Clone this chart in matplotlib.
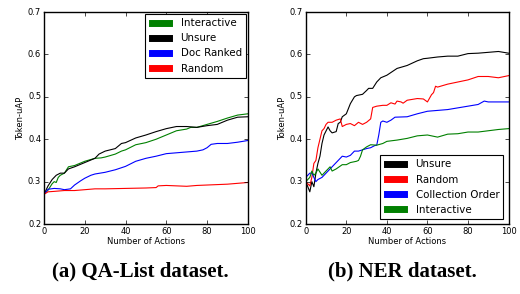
import matplotlib
matplotlib.use("Agg")
import matplotlib.pyplot as plt

# QA-List dataset (left panel)
qa_inter_x = [0, 2, 4, 5, 6, 7, 8, 10, 12, 15, 20, 25, 28, 30, 35, 38, 40, 45, 50, 55, 60, 65, 70, 72, 75, 80, 85, 90, 95, 100]
qa_inter_y = [0.27, 0.28, 0.295, 0.30, 0.298, 0.31, 0.315, 0.32, 0.335, 0.338, 0.348, 0.355, 0.356, 0.358, 0.365, 0.372, 0.375, 0.387, 0.392, 0.40, 0.41, 0.42, 0.424, 0.428, 0.428, 0.435, 0.442, 0.45, 0.457, 0.46]
qa_unsure_x = [0, 2, 4, 6, 8, 10, 12, 15, 20, 25, 27, 30, 35, 38, 40, 45, 50, 55, 60, 65, 70, 75, 80, 85, 90, 95, 100]
qa_unsure_y = [0.27, 0.29, 0.305, 0.315, 0.32, 0.32, 0.33, 0.335, 0.345, 0.355, 0.365, 0.372, 0.378, 0.39, 0.392, 0.403, 0.41, 0.418, 0.425, 0.43, 0.43, 0.428, 0.432, 0.435, 0.445, 0.452, 0.453]
qa_doc_x = [0, 2, 5, 8, 10, 13, 15, 18, 20, 23, 25, 30, 35, 40, 45, 50, 55, 60, 65, 70, 75, 78, 80, 82, 85, 90, 95, 100]
qa_doc_y = [0.27, 0.282, 0.284, 0.283, 0.281, 0.283, 0.292, 0.302, 0.308, 0.315, 0.318, 0.322, 0.328, 0.336, 0.348, 0.355, 0.36, 0.366, 0.368, 0.37, 0.372, 0.375, 0.38, 0.388, 0.39, 0.39, 0.393, 0.397]
qa_rand_x = [0, 2, 5, 10, 15, 20, 25, 30, 40, 50, 55, 56, 60, 70, 75, 80, 90, 95, 100]
qa_rand_y = [0.27, 0.276, 0.277, 0.279, 0.279, 0.281, 0.283, 0.283, 0.284, 0.285, 0.286, 0.29, 0.291, 0.289, 0.291, 0.292, 0.294, 0.296, 0.298]

# NER dataset (right panel)
ner_unsure_x = [0, 2, 3, 4, 5, 6, 7, 8, 9, 11, 12, 13, 15, 16, 17, 18, 20, 22, 24, 25, 28, 30, 31, 33, 35, 37, 40, 45, 50, 55, 58, 60, 65, 70, 75, 80, 85, 90, 95, 100]
ner_unsure_y = [0.30, 0.276, 0.30, 0.288, 0.32, 0.343, 0.36, 0.39, 0.41, 0.429, 0.42, 0.415, 0.418, 0.437, 0.44, 0.453, 0.46, 0.484, 0.50, 0.503, 0.506, 0.515, 0.52, 0.52, 0.535, 0.545, 0.551, 0.567, 0.574, 0.585, 0.59, 0.591, 0.594, 0.596, 0.596, 0.602, 0.603, 0.605, 0.607, 0.603]
ner_rand_x = [0, 2, 3, 4, 5, 6, 7, 8, 9, 10, 11, 13, 15, 17, 18, 20, 22, 24, 26, 28, 30, 32, 33, 35, 38, 40, 42, 44, 45, 47, 48, 50, 55, 58, 60, 62, 63, 64, 65, 70, 75, 80, 85, 90, 95, 100]
ner_rand_y = [0.30, 0.29, 0.31, 0.343, 0.35, 0.38, 0.40, 0.42, 0.425, 0.435, 0.44, 0.44, 0.445, 0.448, 0.43, 0.435, 0.437, 0.432, 0.44, 0.435, 0.44, 0.448, 0.475, 0.478, 0.48, 0.48, 0.486, 0.483, 0.49, 0.488, 0.485, 0.492, 0.496, 0.495, 0.488, 0.505, 0.51, 0.525, 0.523, 0.53, 0.535, 0.54, 0.548, 0.548, 0.545, 0.55]
ner_coll_x = [0, 2, 3, 4, 5, 6, 8, 10, 12, 14, 16, 18, 20, 22, 24, 26, 28, 30, 32, 34, 35, 36, 37, 38, 40, 42, 44, 50, 55, 60, 65, 70, 75, 80, 85, 88, 90, 95, 100]
ner_coll_y = [0.31, 0.32, 0.32, 0.31, 0.30, 0.305, 0.31, 0.32, 0.33, 0.34, 0.35, 0.36, 0.358, 0.362, 0.372, 0.372, 0.375, 0.378, 0.38, 0.385, 0.386, 0.41, 0.44, 0.443, 0.44, 0.445, 0.452, 0.453, 0.46, 0.466, 0.468, 0.47, 0.474, 0.478, 0.482, 0.49, 0.488, 0.488, 0.488]
ner_inter_x = [0, 2, 3, 4, 5, 6, 8, 10, 11, 12, 13, 15, 18, 20, 22, 25, 26, 27, 28, 30, 32, 35, 38, 40, 45, 50, 55, 60, 65, 70, 75, 80, 85, 90, 95, 100]
ner_inter_y = [0.30, 0.31, 0.325, 0.315, 0.32, 0.33, 0.315, 0.325, 0.33, 0.335, 0.325, 0.33, 0.34, 0.34, 0.345, 0.348, 0.35, 0.36, 0.375, 0.382, 0.387, 0.386, 0.39, 0.395, 0.398, 0.402, 0.408, 0.41, 0.405, 0.412, 0.413, 0.417, 0.417, 0.42, 0.423, 0.425]

captions = ["(a) QA-List dataset.", "(b) NER dataset."]

plt.style.use("classic")
plt.rcParams["font.family"] = "DejaVu Sans"
fig = plt.figure(figsize=(5.2, 2.94), dpi=100)
fig.patch.set_facecolor("white")

ax1 = fig.add_axes([0.0846, 0.238, 0.392, 0.721])
ax2 = fig.add_axes([0.588, 0.238, 0.39, 0.721])

ax1.plot(qa_inter_x, qa_inter_y, color="green", lw=0.8, label="Interactive")
ax1.plot(qa_unsure_x, qa_unsure_y, color="black", lw=0.8, label="Unsure")
ax1.plot(qa_doc_x, qa_doc_y, color="blue", lw=0.8, label="Doc Ranked")
ax1.plot(qa_rand_x, qa_rand_y, color="red", lw=0.8, label="Random")

ax2.plot(ner_unsure_x, ner_unsure_y, color="black", lw=0.8, label="Unsure")
ax2.plot(ner_rand_x, ner_rand_y, color="red", lw=0.8, label="Random")
ax2.plot(ner_coll_x, ner_coll_y, color="blue", lw=0.8, label="Collection Order")
ax2.plot(ner_inter_x, ner_inter_y, color="green", lw=0.8, label="Interactive")

for ax, loc, cap, pad in [(ax1, "upper right", captions[0], 0.2), (ax2, "lower right", captions[1], 0.5)]:
    ax.set_xlim(0, 100)
    ax.set_ylim(0.2, 0.7)
    ax.set_xticks([0, 20, 40, 60, 80, 100])
    ax.set_yticks([0.2, 0.3, 0.4, 0.5, 0.6, 0.7])
    ax.tick_params(labelsize=6, length=3, pad=2)
    ax.set_xlabel("Number of Actions", fontsize=6, labelpad=1)
    ax.set_ylabel("Token-uAP", fontsize=6, labelpad=2)
    leg = ax.legend(loc=loc, fontsize=7.4, frameon=True, fancybox=False,
                    handlelength=2.3, borderaxespad=pad, labelspacing=0.5)
    leg.get_frame().set_edgecolor("black")
    leg.get_frame().set_linewidth(0.8)
    for h in leg.get_lines():
        h.set_linewidth(5)
    pos = ax.get_position()
    fig.text(pos.x0 + pos.width / 2 - 0.01, 0.075, cap, ha="center", va="center",
             fontsize=15, fontweight="bold", family="Liberation Serif")

fig.savefig("out.png", dpi=100)
